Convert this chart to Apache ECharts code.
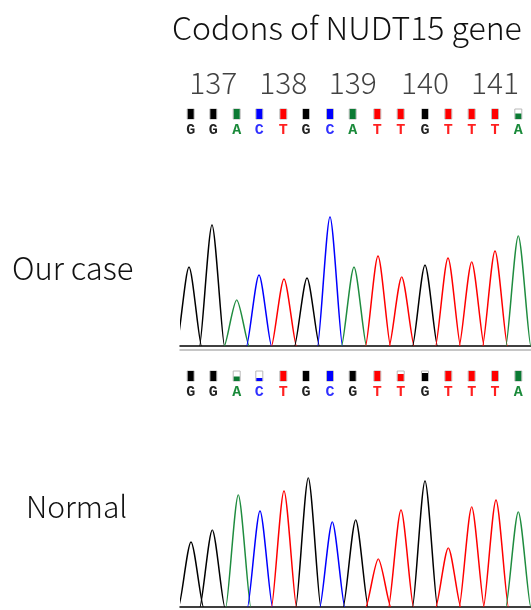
<!DOCTYPE html>
<html>
<head>
<meta charset="utf-8">
<script src="https://cdn.jsdelivr.net/npm/echarts@6/dist/echarts.min.js"></script>
<style>
  html, body { margin: 0; background: #fff; }
  #chart { width: 531px; height: 610px; }
</style>
</head>
<body>
<div id="chart"></div>
<script>
// base calls, scan position of each call (px offset from trace start)
const ourBases = ['G', 'G', 'A', 'C', 'T', 'G', 'C', 'A', 'T', 'T', 'G', 'T', 'T', 'T', 'A'];
const normalBases = ['G', 'G', 'A', 'C', 'T', 'G', 'C', 'G', 'T', 'T', 'G', 'T', 'T', 'T', 'A'];
const basePos = [10.7, 33.3, 56.7, 79.3, 103.3, 126, 150, 172.7, 197.3, 220.7, 245, 268.3, 291.7, 315, 338.3];
const ourQuality = [1, 1, 1, 1, 1, 1, 1, 1, 1, 1, 1, 1, 1, 1, 0.55];
const normalQuality = [1, 1, 0.45, 0.3, 1, 1, 1, 1, 1, 0.7, 0.8, 1, 1, 1, 1];

const codonLabels = ['137', '138', '139', '140', '141'];
const codonMiddleBase = [1, 4, 7, 10, 13];

// peaks of the chromatograms
const ourPeakPos = [9, 32, 56.7, 79, 104, 127, 150, 174, 198, 221.7, 245, 268, 291.7, 315, 338.3];
const ourPeakHeight = [79, 121, 46, 71, 67, 68, 129, 79, 90, 69, 81, 88, 84, 95, 110];
const normalPeakPos = [11, 32.3, 58.3, 80, 104, 128.3, 152.3, 175.7, 198.3, 221, 245, 268.3, 291.7, 316, 338.3];
const normalPeakHeight = [65, 77, 112, 96, 116, 129, 85, 87, 48, 97, 126, 59, 100, 107, 95];

const halfWidth = 12.5;
const traceColor = { G: '#000000', A: '#1f8c3f', C: '#0000ff', T: '#ff0000' };
const squareColor = { G: '#000000', A: '#0b7a33', C: '#0000ff', T: '#ff0000' };
const letterColor = { G: '#222222', A: '#1a8a3a', C: '#3030ff', T: '#ff2020' };
const fontName = '"Noto Sans CJK JP", "Noto Sans", sans-serif';

const chart = echarts.init(document.getElementById('chart'));

function callRow(bases, quality, idx) {
  return {
    type: 'custom',
    xAxisIndex: idx,
    yAxisIndex: idx,
    clip: false,
    silent: true,
    data: bases.map((b, i) => [basePos[i], quality[i]]),
    renderItem: (params, api) => {
      const b = bases[params.dataIndex];
      const top = api.coord([api.value(0), 1]);
      const bot = api.coord([api.value(0), 0]);
      const q = api.coord([api.value(0), api.value(1)]);
      const x = top[0];
      return {
        type: 'group',
        children: [
          { type: 'rect', shape: { x: x - 3.5, y: top[1], width: 7, height: bot[1] - top[1] }, style: { fill: '#fff', stroke: '#b8b8b8', lineWidth: 1 } },
          { type: 'rect', shape: { x: x - 3, y: q[1], width: 6, height: bot[1] - q[1] }, style: { fill: squareColor[b] } },
          { type: 'text', style: { text: b, x: x, y: bot[1] + 11, align: 'center', verticalAlign: 'middle', font: 'bold 15px "Liberation Mono", monospace', fill: letterColor[b] } }
        ]
      };
    }
  };
}

// each peak: two cubic curves foot -> apex -> foot
function traceSeries(bases, pos, heights, idx) {
  return {
    type: 'custom',
    xAxisIndex: idx,
    yAxisIndex: idx,
    clip: true,
    silent: true,
    data: pos.map((p, i) => [p, heights[i]]),
    renderItem: (params, api) => {
      const p = api.value(0), h = api.value(1);
      const color = traceColor[bases[params.dataIndex]];
      const L = api.coord([p - halfWidth, 0]);
      const A = api.coord([p, h]);
      const R = api.coord([p + halfWidth, 0]);
      const w = A[0] - L[0];
      const style = { stroke: color, lineWidth: 1.5, fill: null };
      return {
        type: 'group',
        children: [
          { type: 'bezierCurve', shape: { x1: L[0], y1: L[1], cpx1: L[0] + 0.2 * w, cpy1: L[1], cpx2: A[0] - 0.28 * w, cpy2: A[1], x2: A[0], y2: A[1] }, style },
          { type: 'bezierCurve', shape: { x1: A[0], y1: A[1], cpx1: A[0] + 0.28 * w, cpy1: A[1], cpx2: R[0] - 0.2 * w, cpy2: R[1], x2: R[0], y2: R[1] }, style }
        ]
      };
    }
  };
}

const grids = [
  { left: 180, width: 351, top: 109, height: 10 },
  { left: 180, width: 351, top: 196, height: 150 },
  { left: 180, width: 351, top: 371, height: 10 },
  { left: 180, width: 351, top: 457, height: 150 }
];

const xAxes = grids.map((g, i) => ({
  type: 'value', gridIndex: i, min: 0, max: 351,
  show: i === 1 || i === 3,
  axisLine: { show: true, onZero: false, lineStyle: { color: '#000', width: 1.5 } },
  axisTick: { show: false }, axisLabel: { show: false }, splitLine: { show: false }
}));
// light grey rule under the first trace
xAxes.push({
  type: 'value', gridIndex: 1, min: 0, max: 351, position: 'bottom', offset: 4,
  axisLine: { show: true, onZero: false, lineStyle: { color: '#b4b4b4', width: 1.5 } },
  axisTick: { show: false }, axisLabel: { show: false }, splitLine: { show: false }
});

const yAxes = grids.map((g, i) => ({
  type: 'value', gridIndex: i, min: 0, max: (i === 1 || i === 3) ? 150 : 1, show: false
}));

chart.setOption({
  animation: false,
  backgroundColor: '#fff',
  grid: grids,
  xAxis: xAxes,
  yAxis: yAxes,
  graphic: [
    { type: 'text', x: 172, y: 28, style: { text: 'Codons of NUDT15 gene', font: '300 32px ' + fontName, fill: '#111', verticalAlign: 'middle' } },
    { type: 'text', x: 12, y: 268, style: { text: 'Our case', font: '300 31px ' + fontName, fill: '#111', verticalAlign: 'middle' } },
    { type: 'text', x: 26, y: 507, style: { text: 'Normal', font: '300 30px ' + fontName, fill: '#111', verticalAlign: 'middle' } }
  ],
  series: [
    {
      type: 'scatter', xAxisIndex: 0, yAxisIndex: 0, symbolSize: 0, silent: true,
      data: codonMiddleBase.map(i => [basePos[i], 1]),
      label: {
        show: true, position: 'inside', offset: [0, -26],
        formatter: p => codonLabels[p.dataIndex],
        fontFamily: fontName, fontWeight: 300, fontSize: 30, color: '#111'
      }
    },
    callRow(ourBases, ourQuality, 0),
    callRow(normalBases, normalQuality, 2),
    traceSeries(ourBases, ourPeakPos, ourPeakHeight, 1),
    traceSeries(normalBases, normalPeakPos, normalPeakHeight, 3)
  ]
});
</script>
</body>
</html>
